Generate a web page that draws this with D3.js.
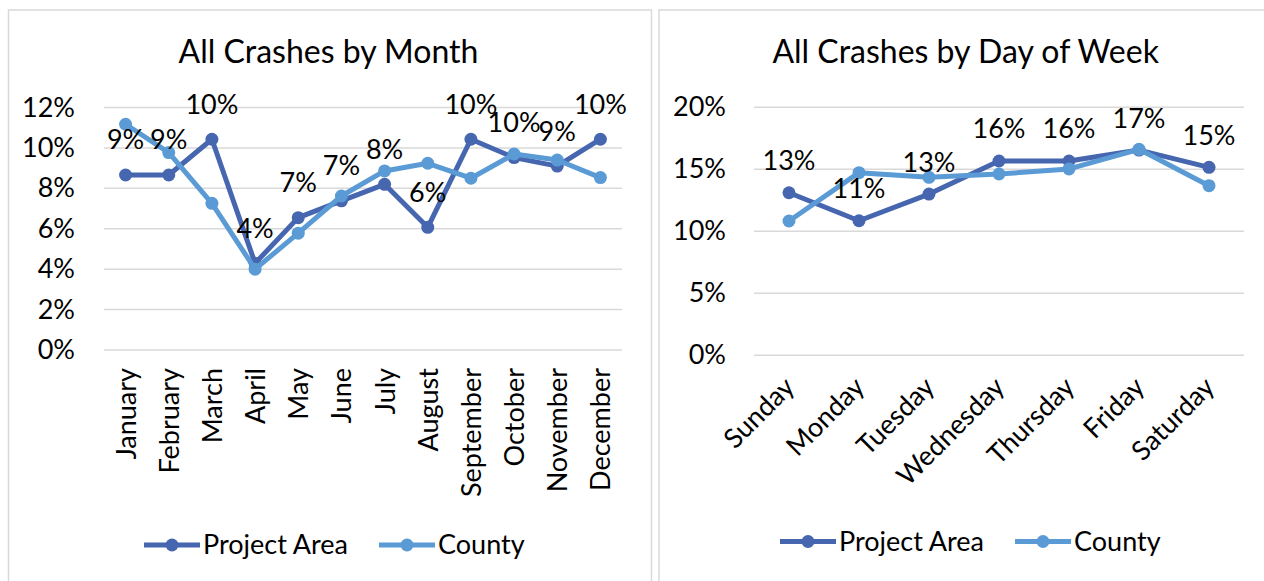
<!DOCTYPE html>
<html>
<head>
<meta charset="utf-8">
<script src="https://cdn.jsdelivr.net/npm/d3@7"></script>
<style>
  html, body { margin: 0; padding: 0; background: #fff; }
  svg { display: block; }
  text { font-family: Lato, "Noto Sans", sans-serif; fill: #000; }
</style>
</head>
<body>
<svg id="chart" width="1264" height="581"></svg>
<script>
// ---- Data ----
const months = ["January","February","March","April","May","June","July","August","September","October","November","December"];
const monthProject = [0.0866, 0.0866, 0.1043, 0.0429, 0.0655, 0.0738, 0.0820, 0.0607, 0.1043, 0.0952, 0.0910, 0.1043];
const monthCounty  = [0.1117, 0.0977, 0.0726, 0.0400, 0.0578, 0.0762, 0.0886, 0.0924, 0.0850, 0.0970, 0.0940, 0.0853];
const monthTicks = [0, 0.02, 0.04, 0.06, 0.08, 0.10, 0.12];

const days = ["Sunday","Monday","Tuesday","Wednesday","Thursday","Friday","Saturday"];
const dayProject = [0.1311, 0.1085, 0.1300, 0.1567, 0.1567, 0.1655, 0.1516];
const dayCounty  = [0.1083, 0.1473, 0.1435, 0.1462, 0.1503, 0.1661, 0.1368];
const dayTicks = [0, 0.05, 0.10, 0.15, 0.20];

const seriesNames = ["Project Area", "County"];
const seriesColors = ["#4666B0", "#5B9BD5"];

// ---- Drawing ----
const svg = d3.select("#chart");
const fmt = d3.format(".0%");
const FS = "27px";

function drawPanel(cfg) {
  const g = svg.append("g");
  g.append("rect")
    .attr("x", cfg.box[0]).attr("y", cfg.box[1])
    .attr("width", cfg.box[2]).attr("height", cfg.box[3])
    .attr("fill", "#fff").attr("stroke", "#d9d9d9").attr("stroke-width", 1.5);

  g.append("text")
    .attr("x", cfg.titleX).attr("y", 63)
    .attr("text-anchor", "middle")
    .style("font-size", "32px")
    .text(cfg.title);

  const x = d3.scalePoint().domain(cfg.cats).range(cfg.xRange).padding(0.5);
  const y = d3.scaleLinear().domain([0, cfg.yMax]).range(cfg.yRange);

  g.append("g").selectAll("line").data(cfg.ticks).join("line")
    .attr("x1", cfg.xRange[0]).attr("x2", cfg.xRange[1])
    .attr("y1", d => y(d)).attr("y2", d => y(d))
    .attr("stroke", "#d9d9d9").attr("stroke-width", 1.5);

  const yAxis = d3.axisLeft(y).tickValues(cfg.ticks).tickFormat(fmt).tickSize(0).tickPadding(0);
  const ya = g.append("g").attr("transform", `translate(${cfg.yLabelX},0)`).call(yAxis);
  ya.select(".domain").remove();
  ya.selectAll("text").style("font-size", FS).attr("font-family", null).attr("fill", "#000");

  const xAxis = d3.axisBottom(x).tickSize(0).tickPadding(0);
  const xa = g.append("g").attr("transform", `translate(0,${cfg.xLabelY})`).call(xAxis);
  xa.select(".domain").remove();
  xa.selectAll("text")
    .style("font-size", FS).attr("font-family", null).attr("fill", "#000")
    .attr("y", 0).attr("dy", "0.35em")
    .attr("text-anchor", "end")
    .attr("transform", `rotate(${cfg.rot})`);

  const seriesData = [cfg.project, cfg.county];
  const line = d3.line().x((d, i) => x(cfg.cats[i])).y(d => y(d));

  seriesData.forEach((vals, si) => {
    g.append("path").datum(vals)
      .attr("d", line)
      .attr("fill", "none")
      .attr("stroke", seriesColors[si])
      .attr("stroke-width", 5)
      .attr("stroke-linejoin", "round");
    g.append("g").selectAll("circle").data(vals).join("circle")
      .attr("cx", (d, i) => x(cfg.cats[i]))
      .attr("cy", d => y(d))
      .attr("r", 6.5)
      .attr("fill", seriesColors[si]);
  });

  g.append("g").selectAll("text").data(cfg.project).join("text")
    .attr("x", (d, i) => x(cfg.cats[i]))
    .attr("y", d => y(d) - cfg.labelOff)
    .attr("dy", "0.35em")
    .attr("text-anchor", "middle")
    .style("font-size", FS)
    .text(d => fmt(d));

  const lg = g.append("g");
  cfg.legend.forEach((L, si) => {
    lg.append("line")
      .attr("x1", L[0]).attr("x2", L[0] + 56)
      .attr("y1", cfg.legendY).attr("y2", cfg.legendY)
      .attr("stroke", seriesColors[si]).attr("stroke-width", 5);
    lg.append("circle")
      .attr("cx", L[0] + 28).attr("cy", cfg.legendY).attr("r", 6.5)
      .attr("fill", seriesColors[si]);
    lg.append("text")
      .attr("x", L[0] + 59).attr("y", cfg.legendY).attr("dy", "0.35em")
      .style("font-size", FS)
      .text(seriesNames[si]);
  });
}

drawPanel({
  box: [8.5, 10, 643, 620],
  title: "All Crashes by Month", titleX: 328.5,
  cats: months, project: monthProject, county: monthCounty,
  ticks: monthTicks, yMax: 0.12,
  xRange: [104, 622], yRange: [350, 107.5],
  yLabelX: 75, xLabelY: 368, rot: -90,
  labelOff: 35,
  legend: [[144], [379]], legendY: 545
});

drawPanel({
  box: [659, 10, 700, 620],
  title: "All Crashes by Day of Week", titleX: 965.7,
  cats: days, project: dayProject, county: dayCounty,
  ticks: dayTicks, yMax: 0.20,
  xRange: [754, 1244], yRange: [355.3, 107.3],
  yLabelX: 726, xLabelY: 382, rot: -45,
  labelOff: 32,
  legend: [[780], [1015]], legendY: 541.5
});
</script>
</body>
</html>
